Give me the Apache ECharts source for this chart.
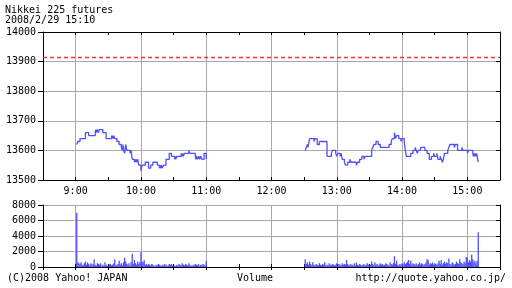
<!DOCTYPE html>
<html><head><meta charset="utf-8">
<script src="https://cdn.jsdelivr.net/npm/echarts@6/dist/echarts.min.js"></script>
<style>html,body{margin:0;padding:0;background:#fff}#c{width:512px;height:288px}</style>
</head><body><div id="c"></div>
<script>
// ---- data ----
const titleLines = ['Nikkei 225 futures', '2008/2/29 15:10'];
const priceTicks = [13500, 14000, 100];
const volumeTicks = [0, 8000, 2000];
const prevClose = 13915;
const morningPrice = [
['9:01',13620],['9:02',13630],['9:04',13640],['9:09',13660],['9:12',13650],
['9:18',13660],['9:18:30',13670],['9:19',13660],['9:19:30',13670],['9:21',13660],['9:21:30',13670],['9:25',13660],['9:28',13640],
['9:33',13650],['9:33:30',13640],['9:34',13650],['9:34:30',13640],['9:35',13650],['9:36',13640],
['9:38',13630],['9:40',13620],['9:42',13610],['9:43',13600],['9:43:30',13620],['9:44',13600],['9:45',13590],['9:46',13620],['9:47',13600],
['9:50',13590],['9:51',13600],['9:52',13570],['9:54',13560],['9:54:30',13570],['9:55',13560],['9:55:30',13570],['9:56',13560],['9:57',13570],['9:58',13550],
['10:00',13530],['10:01',13550],['10:04',13560],['10:07',13540],['10:09',13550],['10:11',13560],['10:15',13550],['10:17',13540],['10:17:30',13550],['10:18',13540],['10:19',13550],['10:19:30',13540],['10:21',13550],
['10:23',13570],['10:26',13590],['10:28',13580],['10:31',13570],['10:31:30',13580],['10:32',13570],['10:33',13580],['10:37',13590],['10:38',13580],['10:38:30',13590],['10:39',13580],['10:40',13590],
['10:44',13600],['10:45',13590],['10:50',13580],['10:50:30',13570],['10:51',13580],['10:52',13570],['10:53',13580],['10:54',13570],['10:55',13580],['10:56',13570],['10:58',13590],['11:00',13570]
];
const afternoonPrice = [
['12:31',13600],['12:32',13610],['12:33',13620],['12:33:30',13610],['12:34',13620],['12:35',13640],['12:39',13630],['12:40',13640],['12:42',13620],['12:44',13630],
['12:51',13580],['12:55',13590],['12:56',13600],['12:59',13590],['13:00',13580],['13:01',13590],['13:03',13580],['13:04',13590],['13:04:30',13580],['13:05',13570],['13:07',13560],['13:08',13550],['13:10',13560],['13:12',13570],['13:13',13560],['13:18',13550],['13:19',13560],['13:21',13570],['13:23',13580],['13:25',13570],['13:26',13580],
['13:32',13600],['13:33',13610],['13:34',13620],['13:36',13630],['13:38',13620],['13:40',13610],['13:48',13620],['13:50',13630],['13:51',13640],['13:53',13660],['13:54',13640],['13:55',13650],['13:57',13640],['13:59',13630],['14:00',13640],['14:02',13630],['14:03',13600],['14:04',13580],['14:08',13590],['14:10',13600],['14:12',13610],['14:13',13600],['14:14',13590],['14:15',13600],['14:17',13610],['14:21',13600],['14:23',13590],['14:25',13570],['14:27',13580],['14:29',13590],['14:30',13580],['14:32',13590],['14:33',13570],['14:35',13580],['14:36',13570],['14:37',13560],['14:38',13570],['14:39',13590],['14:42',13600],['14:43',13610],['14:44',13620],['14:48',13610],['14:49',13620],['14:51',13600],['14:55',13610],['14:56',13600],['15:00',13590],['15:01',13600],['15:05',13590],['15:05:30',13580],['15:06',13590],['15:06:30',13580],['15:07',13590],['15:08',13580],['15:08:30',13590],['15:09',13590],['15:10',13560]
];
const morningVolumeStart = '9:01';
const morningVolume = [
7000,600,500,400,600,300,200,500,700,300,
600,400,200,500,300,400,1000,300,200,500,
400,300,500,100,300,200,600,300,200,100,
300,400,200,300,500,1000,200,300,400,800,
300,500,200,600,1200,700,400,300,500,200,
600,1700,400,900,500,300,700,400,600,1900,
700,600,900,300,400,200,400,300,200,400,
300,200,100,300,200,400,300,200,100,300,
200,400,300,100,200,400,300,400,200,100,
200,100,300,200,400,300,200,500,300,200,
400,300,200,500,300,200,100,300,200,400,
300,200,400,100,300,200,400,300,200,800
];
const afternoonVolumeStart = '12:31';
const afternoonVolume = [
1000,400,600,300,700,400,200,600,300,200,
400,300,200,500,300,200,400,300,600,200,
300,200,500,300,200,400,300,200,300,500,
200,400,300,200,500,300,400,300,900,400,
200,300,400,200,300,500,200,600,300,200,
400,300,200,300,400,200,300,500,300,200,
300,700,400,200,600,300,400,200,300,500,
300,400,200,300,500,400,300,200,600,400,
300,500,1400,400,800,300,200,400,300,500,
300,600,400,500,700,900,400,800,300,500,
400,300,500,200,400,600,300,500,400,200,
400,600,1000,900,300,500,400,600,300,500,
400,300,500,800,400,900,300,500,700,400,
600,500,1100,400,300,600,500,300,400,700,
500,400,1000,600,500,400,700,500,1300,1200,
600,900,700,1600,1000,600,800,500,800,4500
];
const footer = ['(C)2008 Yahoo! JAPAN', 'Volume', 'http://quote.yahoo.co.jp/'];

// ---- helpers ----
function toMin(s){const p=s.split(':').map(Number);return p[0]*60+p[1]+(p[2]||0)/60;}
const pricePts = a => a.map(d=>[toMin(d[0]), d[1]]);
const volPts = (start, arr) => arr.map((v,i)=>[toMin(start)+i, v]);
const X_MIN = 510, X_MAX = 930;
const FONT = 'DejaVu Sans Mono';
const BLUE = '#4f4fff';
const RED = '#ff3030';
const GRID = '#a8a8a8';
const txt = {color:'#000', fontFamily:FONT, fontSize:10};

function xAxis(grid, pos, labels){
  return {gridIndex:grid, type:'value', position:pos, min:X_MIN, max:X_MAX, interval:30,
    axisLine:{show:true, lineStyle:{color:'#000', width:1}},
    axisTick:{show:true, inside:true, length:3, lineStyle:{color:'#000'}},
    axisLabel:{show:labels, margin:6, ...txt, formatter:v=>(v%60===0&&v>=540&&v<=900)?(v/60)+':00':''},
    splitLine:{show:pos==='bottom', lineStyle:{color:['rgba(0,0,0,0)',GRID], width:1}}};
}
function yAxis(grid, pos, t){
  const left = pos==='left';
  return {gridIndex:grid, type:'value', position:pos, min:t[0], max:t[1], interval:t[2],
    axisLine:{show:true, lineStyle:{color:'#000', width:1}},
    axisTick:{show:true, inside:!left, length:left?5:4, lineStyle:{color:'#000'}},
    axisLabel:{show:left, margin:7, ...txt, formatter:v=>String(v)},
    splitLine:{show:left, lineStyle:{color:GRID, width:1}}};
}

const chart = echarts.init(document.getElementById('c'), null, {renderer:'canvas'});
chart.setOption({
  animation:false,
  backgroundColor:'#fff',
  title:[
    {text:titleLines[0], left:5, top:5, padding:0, textStyle:{...txt, fontWeight:'normal'}},
    {text:titleLines[1], left:5, top:15, padding:0, textStyle:{...txt, fontWeight:'normal'}},
    {text:footer[0], left:7, top:273, padding:0, textStyle:{...txt, fontWeight:'normal'}},
    {text:footer[1], left:237, top:273, padding:0, textStyle:{...txt, fontWeight:'normal'}},
    {text:footer[2], right:6, top:273, padding:0, textStyle:{...txt, fontWeight:'normal'}}
  ],
  grid:[
    {left:43, right:12, top:32, height:148},
    {left:43, right:12, top:205, height:62}
  ],
  xAxis:[xAxis(0,'bottom',true), xAxis(0,'top',false), xAxis(1,'bottom',false), xAxis(1,'top',false)],
  yAxis:[yAxis(0,'left',priceTicks), yAxis(0,'right',priceTicks), yAxis(1,'left',volumeTicks), yAxis(1,'right',volumeTicks)],
  series:[
    {type:'line', xAxisIndex:0, yAxisIndex:0, step:'end', showSymbol:false, data:pricePts(morningPrice),
     lineStyle:{color:BLUE, width:1.3}, itemStyle:{color:BLUE}},
    {type:'line', xAxisIndex:0, yAxisIndex:0, step:'end', showSymbol:false, data:pricePts(afternoonPrice),
     lineStyle:{color:BLUE, width:1.3}, itemStyle:{color:BLUE}},
    {type:'bar', xAxisIndex:2, yAxisIndex:2, barWidth:1.3, data:volPts(morningVolumeStart, morningVolume), itemStyle:{color:BLUE}, barGap:'0%'},
    {type:'bar', xAxisIndex:2, yAxisIndex:2, barWidth:1.3, data:volPts(afternoonVolumeStart, afternoonVolume), itemStyle:{color:BLUE}, barGap:'-100%'},
    {type:'custom', xAxisIndex:0, yAxisIndex:0, silent:true, data:[[prevClose]], z:5,
     renderItem:(params, api)=>{
       const a = api.coord([X_MIN, api.value(0)]);
       const b = api.coord([X_MAX, api.value(0)]);
       const y = Math.round(a[1]) + 0.5;
       return {type:'line', shape:{x1:a[0], y1:y, x2:b[0], y2:y},
         style:{stroke:RED, fill:null, lineWidth:1.4, lineDash:[4,3]}};
     }}
  ]
});
</script></body></html>
